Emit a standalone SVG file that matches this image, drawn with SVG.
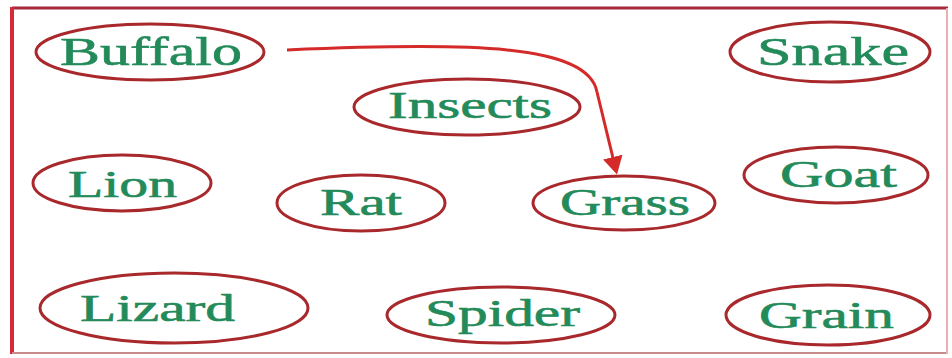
<svg xmlns="http://www.w3.org/2000/svg" width="952" height="358" viewBox="0 0 952 358">
<defs>
<style>
.n ellipse{fill:none;stroke:#a8282c;stroke-width:3}
.n text{font-family:"Liberation Serif","Times New Roman",serif;font-size:38px;fill:#238a5a;stroke:#238a5a;stroke-width:0.6}
.big text{font-size:41px}
</style>
<marker id="ah" viewBox="0 0 18 20" refX="1" refY="10" markerWidth="18" markerHeight="20" orient="auto" markerUnits="userSpaceOnUse">
<path d="M0,0 L18,10 L0,20 z" fill="#d42a2a"/>
</marker>
</defs>
<rect width="952" height="358" fill="#ffffff"/>
<g id="frame">
<line x1="12" y1="8" x2="948" y2="8" stroke="#a8283a" stroke-width="3"/>
<line x1="12" y1="7" x2="12" y2="354" stroke="#d42a3a" stroke-width="4"/>
<line x1="12" y1="353" x2="948" y2="353" stroke="#c88a8a" stroke-width="2"/>
<line x1="947" y1="8" x2="947" y2="354" stroke="#e8b0b0" stroke-width="2"/>
</g>
<g id="connectors">
<path d="M287,50 C470,42 588,44 597,92 L613,158" fill="none" stroke="#d42a2a" stroke-width="3" marker-end="url(#ah)"/>
</g>
<g id="buffalo" class="n big"><ellipse cx="150" cy="52" rx="114" ry="28"/><text x="60" y="65" textLength="182" lengthAdjust="spacingAndGlyphs">Buffalo</text></g>
<g id="insects" class="n"><ellipse cx="467" cy="107" rx="113" ry="28"/><text x="388" y="118" textLength="164" lengthAdjust="spacingAndGlyphs">Insects</text></g>
<g id="snake" class="n big"><ellipse cx="830" cy="52" rx="100" ry="30"/><text x="757" y="65" textLength="152" lengthAdjust="spacingAndGlyphs">Snake</text></g>
<g id="lion" class="n"><ellipse cx="122" cy="183" rx="89" ry="28"/><text x="68" y="197" textLength="109" lengthAdjust="spacingAndGlyphs">Lion</text></g>
<g id="rat" class="n"><ellipse cx="361" cy="203" rx="84" ry="28"/><text x="320" y="215" textLength="82" lengthAdjust="spacingAndGlyphs">Rat</text></g>
<g id="grass" class="n"><ellipse cx="624" cy="203" rx="91" ry="27"/><text x="560" y="215" textLength="130" lengthAdjust="spacingAndGlyphs">Grass</text></g>
<g id="goat" class="n"><ellipse cx="836" cy="175" rx="92" ry="28"/><text x="780" y="187" textLength="117" lengthAdjust="spacingAndGlyphs">Goat</text></g>
<g id="lizard" class="n"><ellipse cx="174" cy="308" rx="134" ry="35"/><text x="80" y="321" textLength="155" lengthAdjust="spacingAndGlyphs">Lizard</text></g>
<g id="spider" class="n"><ellipse cx="501" cy="315" rx="114" ry="28"/><text x="425" y="326" textLength="155" lengthAdjust="spacingAndGlyphs">Spider</text></g>
<g id="grain" class="n"><ellipse cx="828" cy="315" rx="102" ry="30"/><text x="759" y="328" textLength="135" lengthAdjust="spacingAndGlyphs">Grain</text></g>
</svg>
